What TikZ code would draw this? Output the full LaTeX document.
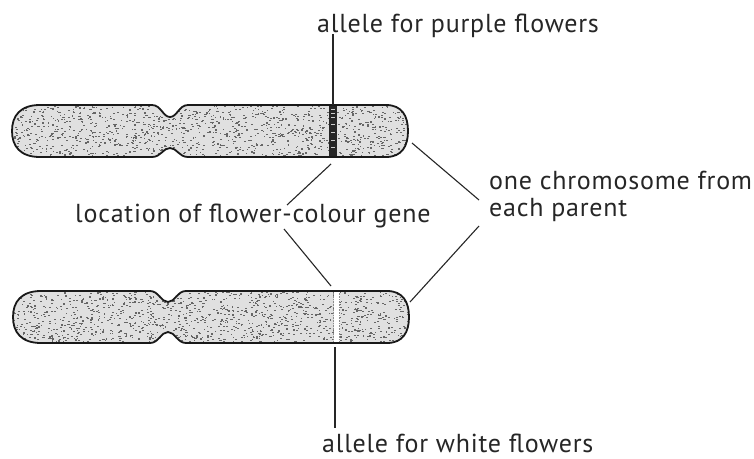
\documentclass[tikz,border=0pt]{standalone}
\usepackage{fontspec}
\setmainfont{PT Sans}[LetterSpace=3]
\begin{document}
\begin{tikzpicture}[x=1pt,y=-1pt,
  lbl/.style={font=\fontsize{26}{27}\selectfont, inner sep=0pt, text=black!85},
  leader/.style={line width=1.1pt, black!85},
  outline/.style={line width=1.8pt, black!90, line join=round},
  grain/.style={fill=black!60}]
\useasboundingbox (0,0) rectangle (754,458);

% outlines of the two chromosomes (pixel-style coordinates, y downwards)
\def\chromA{(40,105) -- (152,105) .. controls (161,105) and (163,117) .. (170,117)
  .. controls (177,117) and (179,105) .. (188,105) -- (386,105)
  .. controls (402,105) and (408,116) .. (408,131) .. controls (408,146) and (402,157) .. (386,157)
  -- (188,157) .. controls (179,157) and (177,148) .. (170,148)
  .. controls (163,148) and (161,157) .. (152,157) -- (40,157)
  .. controls (20,157) and (12,146) .. (12,131) .. controls (12,116) and (20,105) .. (40,105) -- cycle}
\def\chromB{(41,291) -- (150,291) .. controls (159,291) and (161,302) .. (168,302)
  .. controls (175,302) and (177,291) .. (186,291) -- (387,291)
  .. controls (403,291) and (409,302) .. (409,317) .. controls (409,332) and (403,343) .. (387,343)
  -- (186,343) .. controls (177,343) and (175,332) .. (168,332)
  .. controls (161,332) and (159,343) .. (150,343) -- (41,343)
  .. controls (21,343) and (13,332) .. (13,317) .. controls (13,302) and (21,291) .. (41,291) -- cycle}

% top chromosome: stippled body and dark band
\begin{scope}
  \clip \chromA;
  \fill[black!12] (0,100) rectangle (420,162);
  \pgfmathsetseed{11}
  \foreach \i in {1,...,1300} {
    \pgfmathsetmacro\px{12+396*rnd}
    \pgfmathsetmacro\py{105+52*rnd}
    \fill[grain] (\px,\py) rectangle ++(1.7,1.1);
  }
  \fill[black!85] (329,104) rectangle (336.5,158);
  \foreach \yy in {109,113,117,124,132,140,147} {
    \fill[white!80!black] (330.5,\yy) rectangle (334.5,\yy+1.2);
  }
\end{scope}
\draw[outline] \chromA;

% bottom chromosome: stippled body and clear band
\begin{scope}
  \clip \chromB;
  \fill[black!12] (0,286) rectangle (420,348);
  \pgfmathsetseed{23}
  \foreach \i in {1,...,1300} {
    \pgfmathsetmacro\px{13+396*rnd}
    \pgfmathsetmacro\py{291+52*rnd}
    \fill[grain] (\px,\py) rectangle ++(1.7,1.1);
  }
  \fill[white] (333.5,290) rectangle (339.5,344);
  \draw[black!45, densely dotted, line width=0.6pt] (333.5,291) -- (333.5,343) (339.5,291) -- (339.5,343);
\end{scope}
\draw[outline] \chromB;

% labels
\node[lbl, anchor=base west] (purple) at (317,32) {allele for purple flowers};
\node[lbl, anchor=base west] (locus) at (75,222) {location of flower-colour gene};
\node[lbl, anchor=base west, align=left] (parent) at (489,216) {one chromosome from\\each parent};
\node[lbl, anchor=base west, text depth=0pt] (white) at (322,452) {allele for white flowers};

% leader end points
\coordinate (bandA) at (333,105);
\coordinate (purpleFoot) at (333,34);
\coordinate (locusUp) at (287,205);
\coordinate (locusDown) at (284,229);
\coordinate (bandAbelow) at (331,164);
\coordinate (bandBabove) at (331,286);
\coordinate (endA) at (412,143);
\coordinate (endB) at (410,302);
\coordinate (parentUp) at (479,200);
\coordinate (parentDown) at (479,226);
\coordinate (bandBbelow) at (335,347);
\coordinate (whiteTop) at (335,428);

% leader lines
\draw[leader] (purpleFoot) -- (bandA);
\draw[leader] (locusUp) -- (bandAbelow);
\draw[leader] (locusDown) -- (bandBabove);
\draw[leader] (endA) -- (parentUp);
\draw[leader] (endB) -- (parentDown);
\draw[leader] (bandBbelow) -- (whiteTop);
\end{tikzpicture}
\end{document}
